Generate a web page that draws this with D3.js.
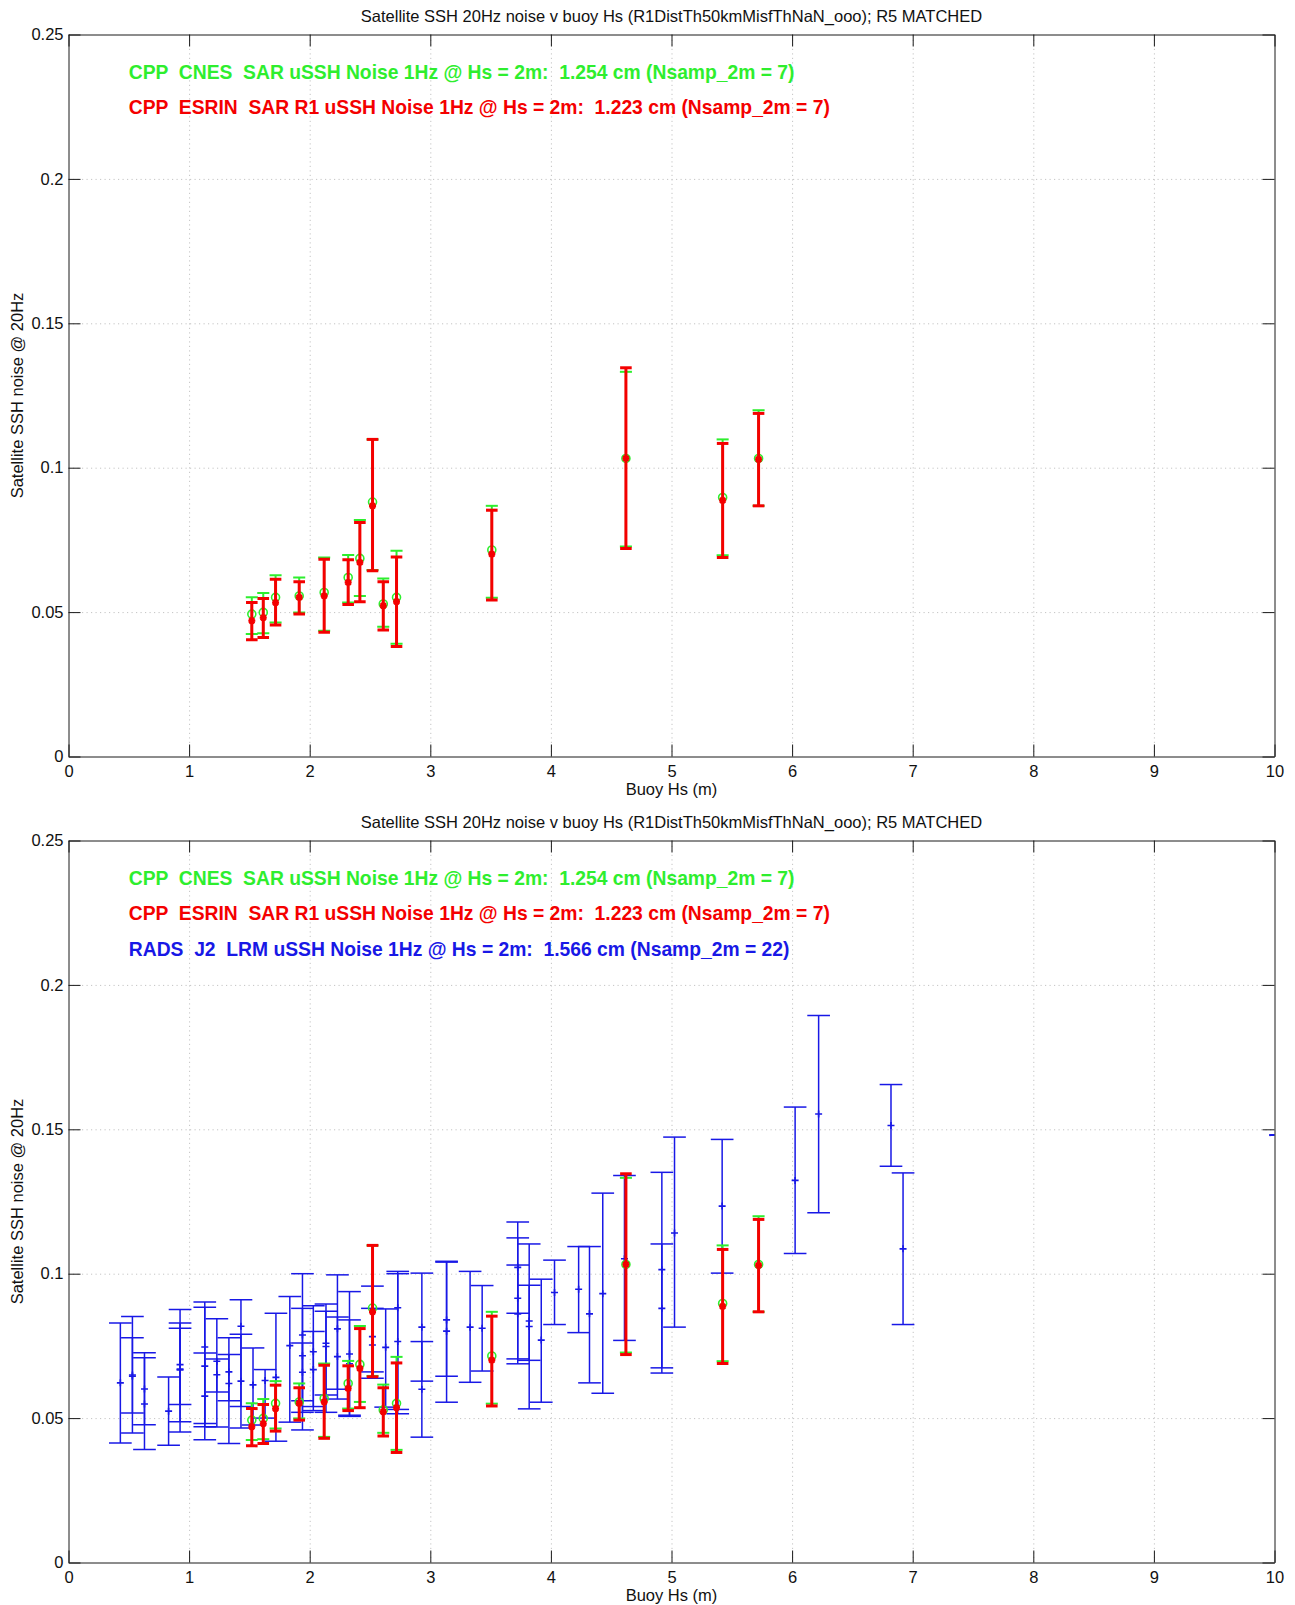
<!DOCTYPE html>
<html>
<head>
<meta charset="utf-8">
<script src="https://cdn.jsdelivr.net/npm/d3@7"></script>
<style>
  html, body { margin: 0; padding: 0; background: #fff; }
  svg { display: block; }
  text { font-family: "Liberation Sans", Arial, Helvetica, sans-serif; }
</style>
</head>
<body>
<svg id="chart" width="1295" height="1605"></svg>
<script>
// ---- Axis ticks ----
const hsTicks = [0, 1, 2, 3, 4, 5, 6, 7, 8, 9, 10];
const hsTickLabels = ["0", "1", "2", "3", "4", "5", "6", "7", "8", "9", "10"];
const noiseTicks = [0, 0.05, 0.1, 0.15, 0.2, 0.25];
const noiseTickLabels = ["0", "0.05", "0.1", "0.15", "0.2", "0.25"];

// ---- CPP SAR matched points (buoy Hs, m) ----
const cppHs = [1.52, 1.615, 1.717, 1.913, 2.12, 2.319, 2.416, 2.521, 2.61, 2.72, 3.51, 4.622, 5.424, 5.722];

// CNES processing: mean noise and error-bar extent
const cnesNoise = [0.0493, 0.0499, 0.0551, 0.0556, 0.0568, 0.0620, 0.0686, 0.0881, 0.0528, 0.0551, 0.0715, 0.1032, 0.0897, 0.1032];
const cnesLo    = [0.0424, 0.0427, 0.0464, 0.0499, 0.0435, 0.0533, 0.0556, 0.0646, 0.0449, 0.0390, 0.0550, 0.0727, 0.0697, 0.0868];
const cnesHi    = [0.0551, 0.0566, 0.0628, 0.0620, 0.0689, 0.0698, 0.0819, 0.1098, 0.0616, 0.0712, 0.0868, 0.1332, 0.1098, 0.1199];

// ESRIN R1 processing
const esrinNoise = [0.0470, 0.0481, 0.0533, 0.0551, 0.0556, 0.0603, 0.0672, 0.0868, 0.0522, 0.0536, 0.0701, 0.1032, 0.0887, 0.1029];
const esrinLo    = [0.0404, 0.0412, 0.0455, 0.0493, 0.0430, 0.0526, 0.0536, 0.0643, 0.0438, 0.0381, 0.0542, 0.0720, 0.0689, 0.0868];
const esrinHi    = [0.0533, 0.0547, 0.0614, 0.0605, 0.0683, 0.0681, 0.0810, 0.1098, 0.0605, 0.0691, 0.0853, 0.1346, 0.1084, 0.1188];

// ---- RADS Jason-2 LRM matched points ----
const radsHs = [
  0.43, 0.53, 0.53, 0.63, 0.63, 0.83, 0.925, 0.925, 0.925,
  1.13, 1.13, 1.13, 1.23, 1.23, 1.33, 1.33, 1.43, 1.43, 1.53, 1.63, 1.72,
  1.835, 1.94, 1.94, 1.94, 2.03, 2.03, 2.135, 2.135, 2.23, 2.23, 2.33, 2.33,
  2.52, 2.52, 2.63, 2.73, 2.73, 2.93, 2.93, 3.135, 3.135, 3.33, 3.43,
  3.725, 3.725, 3.725, 3.82, 3.82, 3.92, 4.03, 4.23, 4.32, 4.43, 4.61,
  4.92, 4.92, 5.025, 5.42, 6.025, 6.22, 6.82, 6.92, 10.05
];
const radsNoise = [
  0.0622, 0.0649, 0.0645, 0.0601, 0.0549, 0.0524, 0.0685, 0.0670, 0.0667,
  0.0746, 0.0680, 0.0576, 0.0697, 0.0650, 0.0660, 0.0620, 0.0818, 0.0628, 0.0615, 0.0630, 0.0641,
  0.0751, 0.0788, 0.0716, 0.0659, 0.0730, 0.0668, 0.0759, 0.0748, 0.0809, 0.0713, 0.0722, 0.0688,
  0.0782, 0.0753, 0.0745, 0.0765, 0.0882, 0.0815, 0.0600, 0.0801, 0.0840, 0.0815, 0.0811,
  0.1022, 0.0915, 0.0861, 0.0836, 0.0817, 0.0770, 0.0935, 0.0946, 0.0861, 0.0931, 0.1052,
  0.1014, 0.0880, 0.1141, 0.1234, 0.1323, 0.1553, 0.1513, 0.1086, 0.1480
];
const radsLo = [
  0.0414, 0.0448, 0.0518, 0.0391, 0.0477, 0.0406, 0.0452, 0.0487, 0.0547,
  0.0425, 0.0481, 0.0470, 0.0469, 0.0590, 0.0412, 0.0560, 0.0466, 0.0540, 0.0476, 0.0500, 0.0420,
  0.0486, 0.0459, 0.0560, 0.0520, 0.0526, 0.0540, 0.0520, 0.0580, 0.0566, 0.0600, 0.0506, 0.0510,
  0.0638, 0.0660, 0.0538, 0.0515, 0.0530, 0.0628, 0.0434, 0.0555, 0.0645, 0.0624, 0.0663,
  0.0863, 0.0705, 0.0688, 0.0532, 0.0700, 0.0555, 0.0824, 0.0796, 0.0622, 0.0586, 0.0769,
  0.0674, 0.0656, 0.0815, 0.1002, 0.1070, 0.1211, 0.1372, 0.0824, 0.1479
];
const radsHi = [
  0.0829, 0.0852, 0.0778, 0.0726, 0.0709, 0.0642, 0.0876, 0.0829, 0.0811,
  0.0902, 0.0884, 0.0725, 0.0844, 0.0705, 0.0778, 0.0720, 0.0910, 0.0790, 0.0743, 0.0668, 0.0863,
  0.0921, 0.1000, 0.0880, 0.0760, 0.0889, 0.0800, 0.0895, 0.0870, 0.0996, 0.0850, 0.0938, 0.0840,
  0.0957, 0.0880, 0.0878, 0.1008, 0.1000, 0.1002, 0.0765, 0.1043, 0.1040, 0.1008, 0.0959,
  0.1179, 0.1124, 0.1030, 0.1103, 0.0960, 0.0981, 0.1047, 0.1094, 0.1094, 0.1279, 0.1340,
  0.1351, 0.1103, 0.1473, 0.1465, 0.1577, 0.1894, 0.1655, 0.1349, 0.1481
];

// ---- Text ----
const titleText = "Satellite SSH 20Hz noise v buoy Hs (R1DistTh50kmMisfThNaN_ooo); R5 MATCHED";
const xLabel = "Buoy Hs (m)";
const yLabel = "Satellite SSH noise @ 20Hz";
const legendCnes  = "CPP  CNES  SAR uSSH Noise 1Hz @ Hs = 2m:  1.254 cm (Nsamp_2m = 7)";
const legendEsrin = "CPP  ESRIN  SAR R1 uSSH Noise 1Hz @ Hs = 2m:  1.223 cm (Nsamp_2m = 7)";
const legendRads  = "RADS  J2  LRM uSSH Noise 1Hz @ Hs = 2m:  1.566 cm (Nsamp_2m = 22)";

const GREEN = "#2eee2e", RED = "#f40000", BLUE = "#1818e6";

const svg = d3.select("#chart");

function zip(hs, v, lo, hi) {
  return hs.map((h, i) => ({ hs: h, v: v[i], lo: lo[i], hi: hi[i] }));
}
const cnesData  = zip(cppHs, cnesNoise, cnesLo, cnesHi);
const esrinData = zip(cppHs, esrinNoise, esrinLo, esrinHi);
const radsData  = zip(radsHs, radsNoise, radsLo, radsHi);

function drawErrorBars(g, x, y, data, o) {
  const grp = g.append("g").attr("stroke", o.color).attr("fill", "none");
  const capPx = x(o.cap) - x(0);
  const bars = grp.selectAll("g.bar").data(data).join("g").attr("class", "bar");
  bars.append("line")
    .attr("x1", d => x(d.hs)).attr("x2", d => x(d.hs))
    .attr("y1", d => y(d.lo)).attr("y2", d => y(d.hi))
    .attr("stroke-width", o.width);
  ["lo", "hi"].forEach(k => {
    bars.append("line")
      .attr("x1", d => x(d.hs) - capPx).attr("x2", d => x(d.hs) + capPx)
      .attr("y1", d => y(d[k])).attr("y2", d => y(d[k]))
      .attr("stroke-width", o.width);
  });
  if (o.marker === "circle") {
    bars.append("circle")
      .attr("cx", d => x(d.hs)).attr("cy", d => y(d.v)).attr("r", 4)
      .attr("stroke-width", 1.6);
  } else if (o.marker === "star") {
    const s = 3.5;
    bars.append("path")
      .attr("d", d => {
        const cx = x(d.hs), cy = y(d.v);
        return `M${cx - s},${cy}H${cx + s}M${cx},${cy - s}V${cy + s}` +
               `M${cx - s * 0.75},${cy - s * 0.75}L${cx + s * 0.75},${cy + s * 0.75}` +
               `M${cx - s * 0.75},${cy + s * 0.75}L${cx + s * 0.75},${cy - s * 0.75}`;
      })
      .attr("stroke-width", 2.2);
  } else if (o.marker === "plus") {
    const s = 3.5;
    bars.append("path")
      .attr("d", d => {
        const cx = x(d.hs), cy = y(d.v);
        return `M${cx - s},${cy}H${cx + s}M${cx},${cy - s}V${cy + s}`;
      })
      .attr("stroke-width", 1.6);
  }
}

function panel(top, id, withRads) {
  const left = 68.5, right = 1274.5, h = 722;
  const x = d3.scaleLinear().domain([0, 10]).range([left, right]);
  const y = d3.scaleLinear().domain([0, 0.25]).range([top + h, top]);
  const g = svg.append("g").attr("class", "panel");

  g.append("clipPath").attr("id", id)
    .append("rect").attr("x", left).attr("y", top).attr("width", right - left).attr("height", h);

  // dotted grid
  g.append("g").attr("transform", `translate(0,${y(0)})`)
    .call(d3.axisBottom(x).tickValues(hsTicks.slice(1, -1)).tickSize(-h).tickFormat(""))
    .call(s => s.select(".domain").remove())
    .call(s => s.selectAll("line").attr("stroke", "#c4c4c4").attr("stroke-dasharray", "1.2,3.3"));
  g.append("g").attr("transform", `translate(${left},0)`)
    .call(d3.axisLeft(y).tickValues(noiseTicks.slice(1, -1)).tickSize(-(right - left)).tickFormat(""))
    .call(s => s.select(".domain").remove())
    .call(s => s.selectAll("line").attr("stroke", "#c4c4c4").attr("stroke-dasharray", "1.2,3.3"));

  // data
  const marks = g.append("g").attr("clip-path", `url(#${id})`);
  if (withRads) {
    drawErrorBars(marks, x, y, radsData, { color: BLUE, width: 1.5, cap: 0.094, marker: "plus" });
  }
  drawErrorBars(marks, x, y, cnesData, { color: GREEN, width: 2, cap: 0.05, marker: "circle" });
  drawErrorBars(marks, x, y, esrinData, { color: RED, width: 3, cap: 0.048, marker: "star" });

  // axes with inward ticks on all four sides
  const styleAxis = s => {
    s.selectAll(".domain, line").attr("stroke", "#1a1a1a");
    s.selectAll("text").attr("fill", "#111").style("font-size", "16.5px");
  };
  g.append("g").attr("transform", `translate(0,${y(0)})`)
    .call(d3.axisBottom(x).tickValues(hsTicks).tickSizeInner(-12).tickSizeOuter(0).tickPadding(9)
      .tickFormat((d, i) => hsTickLabels[i]))
    .call(styleAxis);
  g.append("g").attr("transform", `translate(0,${y(0.25)})`)
    .call(d3.axisTop(x).tickValues(hsTicks).tickSizeInner(-12).tickSizeOuter(0).tickFormat(""))
    .call(styleAxis);
  g.append("g").attr("transform", `translate(${left},0)`)
    .call(d3.axisLeft(y).tickValues(noiseTicks).tickSizeInner(-12).tickSizeOuter(0).tickPadding(5)
      .tickFormat((d, i) => noiseTickLabels[i]))
    .call(styleAxis);
  g.append("g").attr("transform", `translate(${right},0)`)
    .call(d3.axisRight(y).tickValues(noiseTicks).tickSizeInner(-12).tickSizeOuter(0).tickFormat(""))
    .call(styleAxis);
  g.selectAll(".tick text").attr("font-family", null);

  // titles and labels
  g.append("text").attr("x", (left + right) / 2).attr("y", top - 13)
    .attr("text-anchor", "middle").style("font-size", "16.5px").attr("fill", "#111").text(titleText);
  g.append("text").attr("x", (left + right) / 2).attr("y", y(0) + 38)
    .attr("text-anchor", "middle").style("font-size", "16.5px").attr("fill", "#111").text(xLabel);
  g.append("text")
    .attr("transform", `translate(23,${(y(0) + y(0.25)) / 2}) rotate(-90)`)
    .attr("text-anchor", "middle").style("font-size", "16.5px").attr("fill", "#111").text(yLabel);

  // legend text
  const legends = [[legendCnes, GREEN], [legendEsrin, RED]];
  if (withRads) legends.push([legendRads, BLUE]);
  legends.forEach(([t, c], i) => {
    g.append("text").attr("x", x(0.5)).attr("y", top + 44 + i * 35.5)
      .style("font-size", "19.3px").style("font-weight", "bold").style("white-space", "pre")
      .attr("fill", c).text(t);
  });
}

panel(34.5, "clipTop", false);
panel(840.5, "clipBottom", true);
</script>
</body>
</html>
